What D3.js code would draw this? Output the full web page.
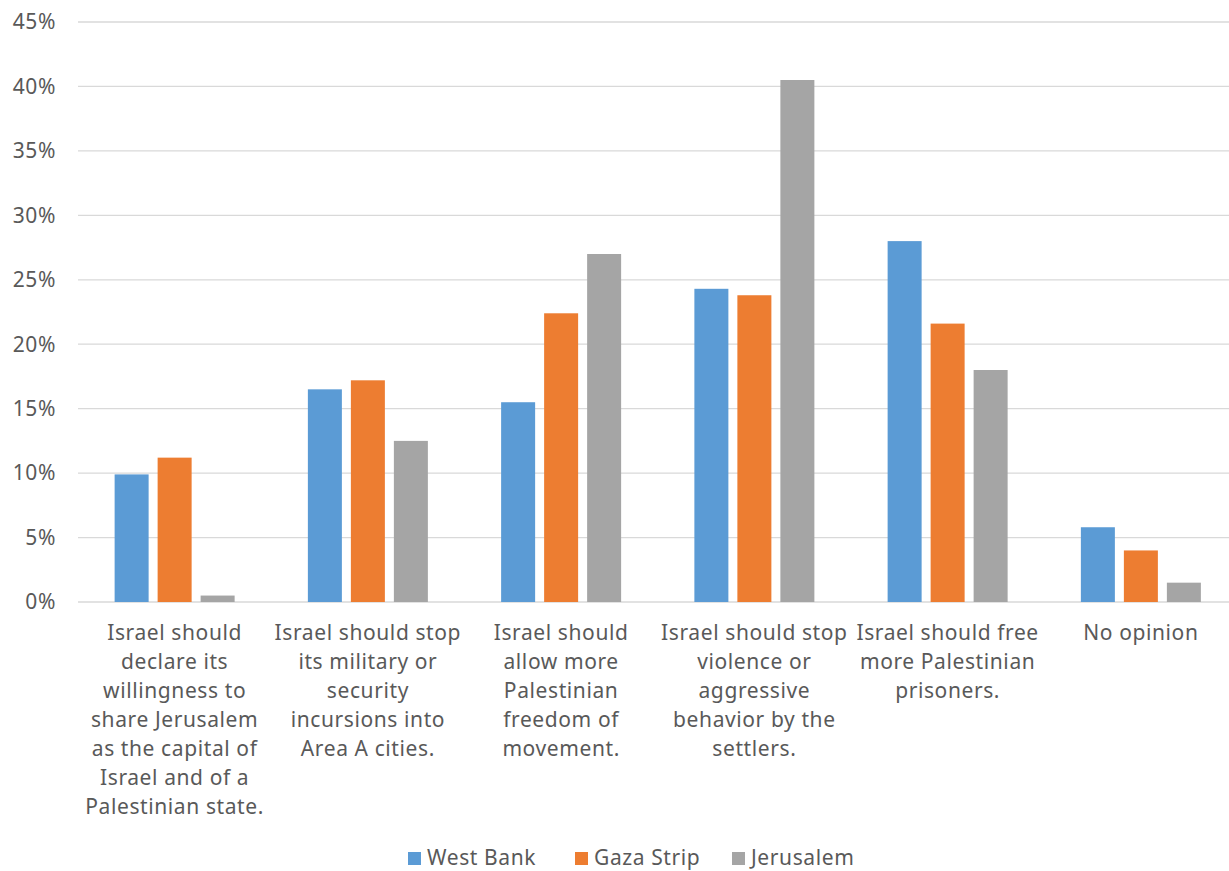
<!DOCTYPE html>
<html><head><meta charset="utf-8">
<script src="https://cdn.jsdelivr.net/npm/d3@7"></script>
<style>body{margin:0;background:#fff;} svg{display:block;font-family:"Noto Sans","Open Sans",sans-serif;}</style>
</head><body>
<script>
const categories = [
  ["Israel should","declare its","willingness to","share Jerusalem","as the capital of","Israel and of a","Palestinian state."],
  ["Israel should stop","its military or","security","incursions into","Area A cities."],
  ["Israel should","allow more","Palestinian","freedom of","movement."],
  ["Israel should stop","violence or","aggressive","behavior by the","settlers."],
  ["Israel should free","more Palestinian","prisoners."],
  ["No opinion"]
];
const seriesNames = ["West Bank","Gaza Strip","Jerusalem"];
const westBank = [9.9, 16.5, 15.5, 24.3, 28.0, 5.8];
const gazaStrip = [11.2, 17.2, 22.4, 23.8, 21.6, 4.0];
const jerusalem = [0.5, 12.5, 27.0, 40.5, 18.0, 1.5];
const yTicks = [0,5,10,15,20,25,30,35,40,45];
const colors = ["#5B9BD5","#ED7D31","#A5A5A5"];

(function(){
const W = 1229, H = 871;
const svg = d3.select("body").append("svg").attr("width",W).attr("height",H);
const pLeft = 78, pRight = 1237.5, pTop = 22, pBottom = 602;
const x = d3.scaleBand().domain(d3.range(categories.length)).range([pLeft,pRight]).paddingInner(0).paddingOuter(0);
const y = d3.scaleLinear().domain([0,45]).range([pBottom,pTop]);
const series = [westBank,gazaStrip,jerusalem];
const fs = 21, ls = 0.6;

svg.append("g").selectAll("line").data(yTicks).join("line")
  .attr("x1",pLeft).attr("x2",W).attr("y1",d=>y(d)).attr("y2",d=>y(d))
  .attr("stroke","#D9D9D9").attr("stroke-width",1.3);

svg.append("g").selectAll("text").data(yTicks).join("text")
  .attr("x",56).attr("y",d=>y(d)).attr("dy","0.35em").attr("text-anchor","end")
  .attr("font-size",fs).attr("letter-spacing",ls).attr("fill","#595959").text(d=>d+"%");

const barW = 34, pitch = 43;
const xs = d3.scaleLinear().domain([0,2]).range([-pitch,pitch]);
series.forEach((vals,si)=>{
  svg.append("g").selectAll("rect").data(vals).join("rect")
    .attr("x",(d,i)=>x(i)+x.bandwidth()/2+xs(si)-barW/2)
    .attr("width",barW)
    .attr("y",d=>y(d)).attr("height",d=>y(0)-y(d))
    .attr("fill",colors[si]);
});

const cg = svg.append("g");
categories.forEach((lines,i)=>{
  const t = cg.append("text").attr("text-anchor","middle").attr("font-size",fs).attr("letter-spacing",ls).attr("fill","#595959");
  lines.forEach((ln,j)=>{
    t.append("tspan").attr("x",x(i)+x.bandwidth()/2).attr("y",640+j*29).text(ln);
  });
});

const lg = svg.append("g");
const legX = [408,575,732];
seriesNames.forEach((n,i)=>{
  lg.append("rect").attr("x",legX[i]).attr("y",852).attr("width",13).attr("height",13).attr("fill",colors[i]);
  lg.append("text").attr("x",legX[i]+19).attr("y",858).attr("dy","0.35em").attr("font-size",fs).attr("letter-spacing",ls).attr("fill","#595959").text(n);
});
})();
</script>
</body></html>
